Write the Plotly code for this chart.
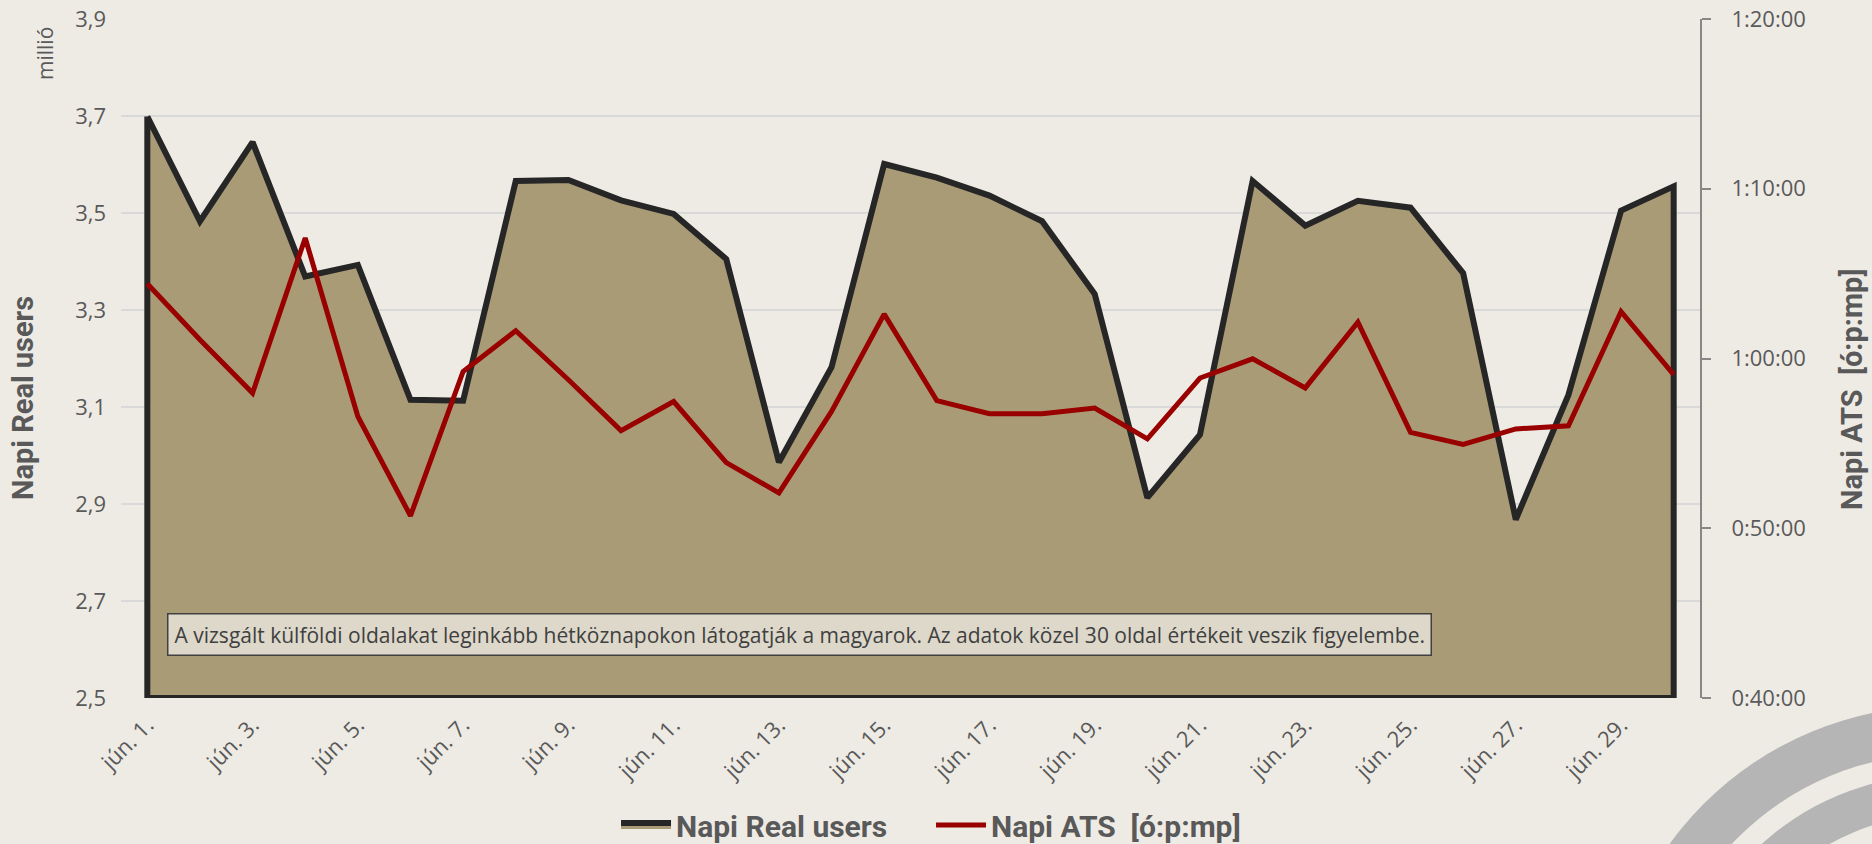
import plotly.graph_objects as go

# ---------------- data ----------------
categories = ["jún. 1.", "jún. 2.", "jún. 3.", "jún. 4.", "jún. 5.", "jún. 6.", "jún. 7.", "jún. 8.",
              "jún. 9.", "jún. 10.", "jún. 11.", "jún. 12.", "jún. 13.", "jún. 14.", "jún. 15.",
              "jún. 16.", "jún. 17.", "jún. 18.", "jún. 19.", "jún. 20.", "jún. 21.", "jún. 22.",
              "jún. 23.", "jún. 24.", "jún. 25.", "jún. 26.", "jún. 27.", "jún. 28.", "jún. 29.",
              "jún. 30."]

real_users_millio = [3.699, 3.483, 3.646, 3.369, 3.393, 3.115, 3.113, 3.566, 3.568, 3.526,
                     3.498, 3.405, 2.986, 3.182, 3.601, 3.573, 3.536, 3.483, 3.333, 2.913,
                     3.043, 3.566, 3.474, 3.525, 3.511, 3.376, 2.868, 3.125, 3.505, 3.555]

ats_time = ["1:04:24", "1:01:06", "0:57:58", "1:07:06", "0:56:35", "0:50:44", "0:59:14", "1:01:38",
            "0:58:45", "0:55:45", "0:57:28", "0:53:52", "0:52:05", "0:56:53", "1:02:37", "0:57:31",
            "0:56:45", "0:56:45", "0:57:05", "0:55:16", "0:58:51", "0:59:59", "0:58:16", "1:02:08",
            "0:55:39", "0:54:56", "0:55:51", "0:56:02", "1:02:46", "0:59:03"]

x_tick_labels = ["jún. 1.", "jún. 3.", "jún. 5.", "jún. 7.", "jún. 9.", "jún. 11.", "jún. 13.",
                 "jún. 15.", "jún. 17.", "jún. 19.", "jún. 21.", "jún. 23.", "jún. 25.", "jún. 27.",
                 "jún. 29."]
left_tick_values = [2.5, 2.7, 2.9, 3.1, 3.3, 3.5, 3.7, 3.9]
left_tick_labels = ["2,5", "2,7", "2,9", "3,1", "3,3", "3,5", "3,7", "3,9"]
right_tick_labels = ["0:40:00", "0:50:00", "1:00:00", "1:10:00", "1:20:00"]

series_names = ["Napi Real users", "Napi ATS\u00a0\u00a0[ó:p:mp]"]
left_title = "Napi Real users"
right_title = "Napi ATS\u00a0\u00a0[ó:p:mp]"
unit_label = "millió"
note_text = ("A vizsgált külföldi oldalakat leginkább hétköznapokon látogatják a magyarok. "
             "Az adatok közel 30 oldal értékeit veszik figyelembe.")


def to_seconds(t):
    h, m, s = (int(p) for p in t.split(":"))
    return h * 3600 + m * 60 + s


ats_seconds = [to_seconds(t) for t in ats_time]
right_tick_values = [to_seconds(t) for t in right_tick_labels]

# ---------------- style ----------------
BG = "#EEEBE5"
FILL = "#AA9B77"
DARK = "#262626"
RED = "#990000"
GRID = "#D9D9D9"
TXT = "#595959"
AXLINE = "#878787"
RING = "#B4B5B4"
REG_FONT = "Open Sans"
BOLD_FONT = "Roboto"

W, H = 1872, 844
ML, MR, MT, MB = 121, 172, 19, 146
PW, PH = W - ML - MR, H - MT - MB

y_min, y_max = left_tick_values[0], left_tick_values[-1]

fig = go.Figure()

# closed area polygon (outline drawn all the way round, as in the original)
poly_x = categories + [categories[-1], categories[0], categories[0]]
poly_y = real_users_millio + [y_min, y_min, real_users_millio[0]]
fig.add_trace(go.Scatter(
    x=poly_x, y=poly_y, name=series_names[0], mode="lines",
    fill="toself", fillcolor=FILL,
    line=dict(color=DARK, width=6, shape="linear"),
    hoverinfo="skip", yaxis="y",
))

fig.add_trace(go.Scatter(
    x=categories, y=ats_seconds, name=series_names[1], mode="lines",
    line=dict(color=RED, width=5),
    yaxis="y2",
))


def px_to_paper_x(px):
    return (px - ML) / PW


def px_to_paper_y(py):
    return (MT + PH - py) / PH


# decorative rings at bottom right
cx, cy = 1940, 1040
shapes = []
for r, col in [(334, RING), (286, BG), (265, RING), (225, BG)]:
    shapes.append(dict(
        type="circle", xref="paper", yref="paper",
        xsizemode="pixel", ysizemode="pixel",
        xanchor=px_to_paper_x(cx), yanchor=px_to_paper_y(cy),
        x0=-r, x1=r, y0=-r, y1=r,
        fillcolor=col, line=dict(width=0), layer="below",
    ))

title_font = dict(family=BOLD_FONT, size=29, color=TXT, weight="bold")
annotations = [
    dict(text=unit_label, xref="paper", yref="paper",
         x=px_to_paper_x(45), y=px_to_paper_y(54), textangle=-90,
         showarrow=False, xanchor="center", yanchor="middle",
         font=dict(family=REG_FONT, size=21, color=TXT)),
    dict(text=left_title, xref="paper", yref="paper",
         x=px_to_paper_x(23), y=px_to_paper_y(398), textangle=-90,
         showarrow=False, xanchor="center", yanchor="middle", font=title_font),
    dict(text=right_title, xref="paper", yref="paper",
         x=px_to_paper_x(1852), y=px_to_paper_y(390), textangle=-90,
         showarrow=False, xanchor="center", yanchor="middle", font=title_font),
    dict(text=note_text, xref="paper", yref="paper",
         x=px_to_paper_x(167), y=px_to_paper_y(634),
         xanchor="left", yanchor="middle", showarrow=False,
         bgcolor="#DDD8CA", bordercolor="#404040", borderwidth=1.5, borderpad=6,
         font=dict(family=REG_FONT, size=21, color="#404040")),
]

fig.update_layout(
    width=W, height=H,
    paper_bgcolor=BG, plot_bgcolor=BG,
    margin=dict(l=ML, r=MR, t=MT, b=MB, autoexpand=False),
    showlegend=True,
    legend=dict(
        orientation="h", x=0.513, xanchor="center",
        y=px_to_paper_y(799), yanchor="top",
        font=dict(family=BOLD_FONT, size=30, color=TXT, weight="bold"),
        bgcolor="rgba(0,0,0,0)", traceorder="normal",
        entrywidth=250, itemwidth=50,
    ),
    xaxis=dict(
        type="category", categoryorder="array", categoryarray=categories,
        range=[-0.5, len(categories) - 0.5],
        tickmode="array", tickvals=x_tick_labels, ticktext=x_tick_labels,
        tickangle=-45, showgrid=False, zeroline=False, showline=False,
        ticks="", ticklabelstandoff=9,
        tickfont=dict(family=REG_FONT, size=22, color=TXT),
        automargin=False,
    ),
    yaxis=dict(
        range=[y_min, y_max], tickmode="array",
        tickvals=left_tick_values, ticktext=left_tick_labels,
        showgrid=True, gridcolor=GRID, gridwidth=1.5, zeroline=False,
        showline=False, ticks="", ticklabelstandoff=14,
        tickfont=dict(family=REG_FONT, size=22, color=TXT),
        automargin=False,
    ),
    yaxis2=dict(
        overlaying="y", side="right",
        range=[right_tick_values[0], right_tick_values[-1]],
        tickmode="array", tickvals=right_tick_values, ticktext=right_tick_labels,
        showgrid=False, zeroline=False,
        showline=True, linecolor=AXLINE, linewidth=2,
        ticks="outside", ticklen=9, tickwidth=2, tickcolor=AXLINE,
        ticklabelstandoff=16,
        tickfont=dict(family=REG_FONT, size=22, color=TXT),
        automargin=False,
    ),
    shapes=shapes,
    annotations=annotations,
    hovermode=False,
)

fig.write_html("out.html", config={"displayModeBar": False},
               post_script="document.body.style.margin='0';document.body.style.overflow='hidden';")
